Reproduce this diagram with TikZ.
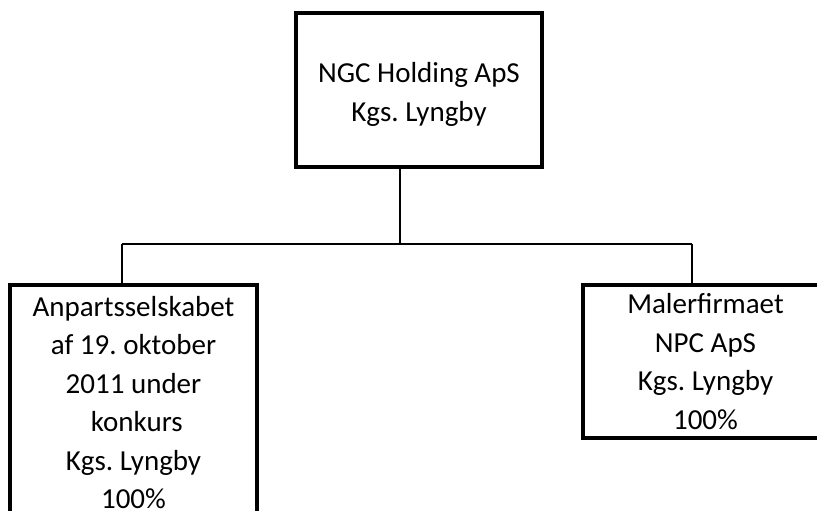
\documentclass[tikz,border=0pt]{standalone}
\usepackage{fontspec}
\setmainfont{Carlito}
\frenchspacing
\tikzset{orgbox/.style={draw, line width=3.3pt, align=center, inner sep=0pt,
         font=\fontsize{29}{38.5}\selectfont},
         link/.style={line width=2.8pt}}

\begin{document}
\begin{tikzpicture}[x=1pt, y=-1pt]
  \useasboundingbox (0,0) rectangle (817,511);

  \node[orgbox, minimum width=246pt, minimum height=154pt] (holding) at (419,90)
    {\rule{0pt}{29pt}NGC Holding ApS\\Kgs. Lyngby};
  \node[orgbox, minimum width=247pt, minimum height=235pt] (anparts) at (133.5,402.5)
    {Anpartsselskabet\\af 19. oktober\\2011 under\hspace*{.23em}\\\hspace*{.23em}konkurs\\Kgs. Lyngby\\100\%};
  \node[orgbox, minimum width=245pt, minimum height=153pt] (maler) at (705.5,361.5)
    {Malerfirmaet\\NPC ApS\\Kgs. Lyngby\\100\%};

  \coordinate (hub) at (400,244);
  \coordinate (ldrop) at (122,244);
  \coordinate (rdrop) at (692,244);

  \draw[link] (holding.south -| hub) -- (hub);
  \draw[link] (ldrop) -- (rdrop);
  \foreach \n/\d in {anparts/ldrop, maler/rdrop}
    \draw[link] (\d) -- (\d |- \n.north);
\end{tikzpicture}
\end{document}
